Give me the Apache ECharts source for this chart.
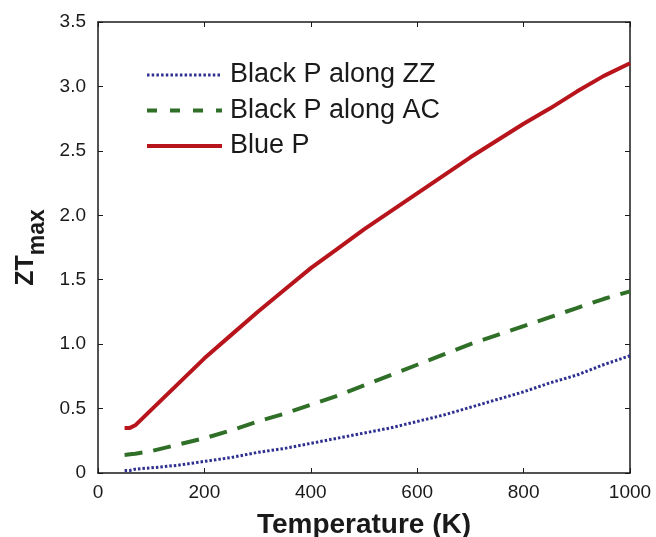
<!DOCTYPE html>
<html>
<head>
<meta charset="utf-8">
<script src="https://cdn.jsdelivr.net/npm/echarts@6/dist/echarts.min.js"></script>
<style>
  html, body { margin: 0; padding: 0; background: #fff; }
  #chart { width: 656px; height: 537px; }
</style>
</head>
<body>
<div id="chart"></div>
<script>
// Temperature points (K)
const temps = [50, 60, 70, 100, 150, 200, 250, 300, 350, 400, 450, 500, 550, 600, 650, 700, 750, 800, 850, 900, 950, 1000];

// ZT_max for each material / direction
const blackZZ = [0.02, 0.02, 0.03, 0.04, 0.06, 0.09, 0.12, 0.16, 0.19, 0.23, 0.27, 0.31, 0.35, 0.40, 0.45, 0.51, 0.57, 0.63, 0.70, 0.76, 0.84, 0.91];
const blackAC = [0.14, 0.145, 0.15, 0.17, 0.22, 0.27, 0.33, 0.40, 0.46, 0.53, 0.60, 0.68, 0.76, 0.84, 0.92, 1.00, 1.07, 1.14, 1.21, 1.28, 1.35, 1.41];
const blueP   = [0.35, 0.35, 0.37, 0.49, 0.69, 0.89, 1.07, 1.25, 1.42, 1.59, 1.74, 1.89, 2.03, 2.17, 2.31, 2.45, 2.58, 2.71, 2.83, 2.96, 3.08, 3.18];

const seriesNames = ['Black P along ZZ', 'Black P along AC', 'Blue P'];

const FONT = 'Liberation Sans, Arial, Helvetica, sans-serif';
const INK = '#1a1a1a';

function pairs(ys) { return temps.map((t, i) => [t, ys[i]]); }

const chart = echarts.init(document.getElementById('chart'), null, { renderer: 'canvas' });

const axisLine = { show: true, onZero: false, lineStyle: { color: INK, width: 1.5 } };
const innerTicks = { show: true, inside: true, length: 5, lineStyle: { color: INK, width: 1 } };

chart.setOption({
  backgroundColor: '#ffffff',
  animation: false,
  grid: { left: 98, right: 26, top: 22, bottom: 64, containLabel: false, outerBoundsMode: 'none' },
  legend: {
    left: 145,
    top: 60,
    orient: 'vertical',
    padding: 0,
    itemWidth: 75,
    itemHeight: 4,
    itemGap: 5.5,
    itemStyle: { opacity: 0 },
    textStyle: { fontFamily: FONT, fontSize: 27, color: INK, lineHeight: 30, padding: [0, 0, 0, 3] },
    data: [
      { name: seriesNames[0], lineStyle: { type: [2.5, 2.2], width: 3 } },
      { name: seriesNames[1], lineStyle: { type: [10, 13], width: 4 } },
      { name: seriesNames[2], lineStyle: { width: 4 } }
    ]
  },
  xAxis: [
    {
      type: 'value', min: 0, max: 1000, interval: 200,
      position: 'bottom',
      axisLine, axisTick: innerTicks, splitLine: { show: false },
      axisLabel: { color: INK, fontFamily: FONT, fontSize: 19, margin: 10, formatter: v => String(v) },
      name: 'Temperature (K)', nameLocation: 'middle', nameGap: 38,
      nameTextStyle: { color: INK, fontFamily: FONT, fontSize: 28, fontWeight: 'bold' }
    },
    {
      type: 'value', min: 0, max: 1000, interval: 200,
      position: 'top',
      axisLine, axisTick: innerTicks, splitLine: { show: false },
      axisLabel: { show: false }
    }
  ],
  yAxis: [
    {
      type: 'value', min: 0, max: 3.5, interval: 0.5,
      position: 'left',
      axisLine, axisTick: innerTicks, splitLine: { show: false },
      axisLabel: {
        color: INK, fontFamily: FONT, fontSize: 19, margin: 12,
        formatter: v => (v === 0 ? '0' : v.toFixed(1))
      },
      name: '{a|ZT}{b|max}', nameLocation: 'middle', nameGap: 51,
      nameTextStyle: {
        rich: {
          a: { fontFamily: FONT, fontSize: 25, fontWeight: 'bold', color: INK, lineHeight: 25, verticalAlign: 'top' },
          b: { fontFamily: FONT, fontSize: 23, fontWeight: 'bold', color: INK, lineHeight: 23, verticalAlign: 'top', padding: [12, 0, 0, 0] }
        }
      }
    },
    {
      type: 'value', min: 0, max: 3.5, interval: 0.5,
      position: 'right',
      axisLine, axisTick: innerTicks, splitLine: { show: false },
      axisLabel: { show: false }
    }
  ],
  series: [
    {
      name: seriesNames[0], type: 'line', showSymbol: false, symbol: 'none',
      data: pairs(blackZZ),
      lineStyle: { color: '#2e3090', width: 3, type: [2.5, 2] },
      itemStyle: { color: '#2e3090' },
      z: 3
    },
    {
      name: seriesNames[1], type: 'line', showSymbol: false, symbol: 'none',
      data: pairs(blackAC),
      lineStyle: { color: '#2f6f27', width: 4, type: [18, 11] },
      itemStyle: { color: '#2f6f27' },
      z: 3
    },
    {
      name: seriesNames[2], type: 'line', showSymbol: false, symbol: 'none',
      data: pairs(blueP),
      lineStyle: { color: '#b8141c', width: 4 },
      itemStyle: { color: '#b8141c' },
      z: 3
    }
  ]
});
</script>
</body>
</html>
